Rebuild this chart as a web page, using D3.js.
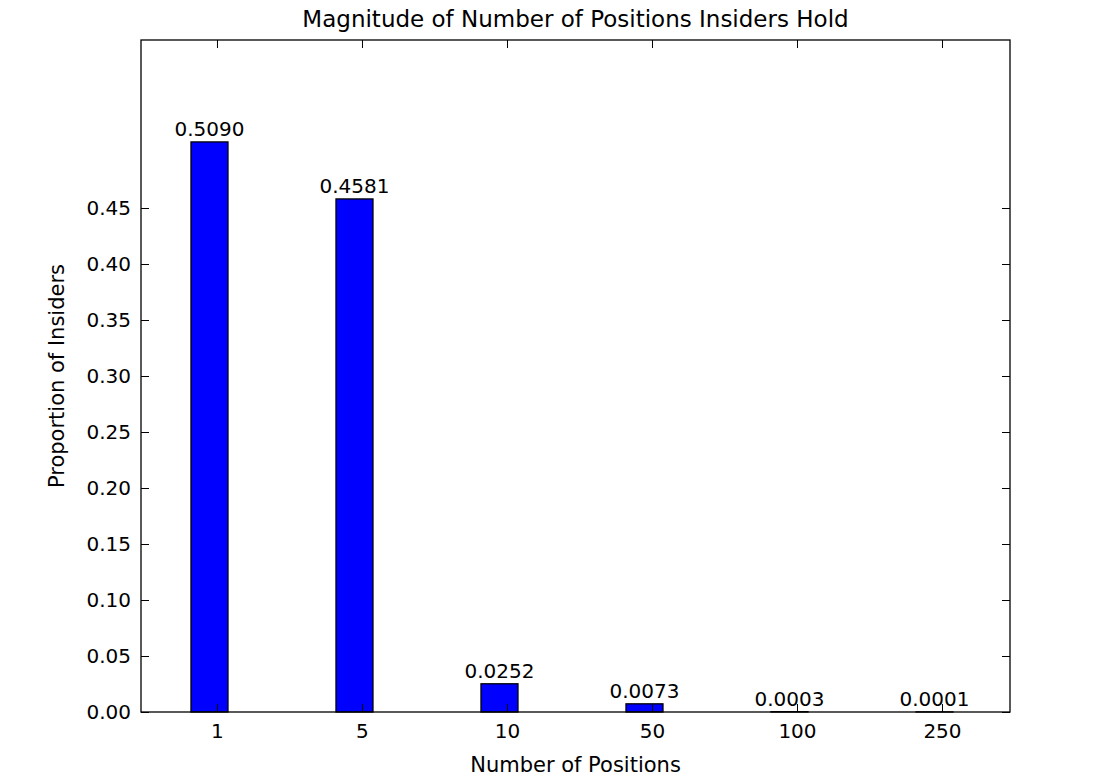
<!DOCTYPE html>
<html><head><meta charset="utf-8">
<script src="https://cdn.jsdelivr.net/npm/d3@7"></script>
<style>body{margin:0;background:#fff}text{font-family:"DejaVu Sans",sans-serif;fill:#000}</style>
</head><body>
<div id="chart"></div>
<script>
// data
var categories = ["1", "5", "10", "50", "100", "250"];
var proportions = [0.5090, 0.4581, 0.0252, 0.0073, 0.0003, 0.0001];
var yTicks = [0, 0.05, 0.10, 0.15, 0.20, 0.25, 0.30, 0.35, 0.40, 0.45];

var W = 1120, H = 782;
var plotL = 141, plotR = 1010, plotT = 40, plotB = 712;

var svg = d3.select("#chart").append("svg")
  .attr("width", W).attr("height", H);

// scales
var x = d3.scaleLinear().domain([-0.524, 5.469]).range([plotL, plotR]);
var y = d3.scaleLinear().domain([0, 0.6]).range([plotB, plotT]);
var barOff = -26 / 145, barW = 37 / 145; // in index units

// bars
svg.selectAll("rect.bar").data(proportions).enter().append("rect")
  .attr("class", "bar")
  .attr("x", (d, i) => x(i + barOff))
  .attr("width", (d, i) => x(i + barOff + barW) - x(i + barOff))
  .attr("y", d => y(d))
  .attr("height", d => plotB - y(d))
  .attr("fill", "#0000ff")
  .attr("stroke", "#000").attr("stroke-width", 1.3);

// value labels
svg.selectAll("text.val").data(proportions).enter().append("text")
  .attr("class", "val")
  .attr("x", (d, i) => x(i + barOff + barW / 2))
  .attr("y", d => y(d) - 6)
  .attr("text-anchor", "middle")
  .style("font-size", "20px")
  .text(d => d.toFixed(4));

// axes with inward ticks on all sides
var idx = d3.range(categories.length);
svg.append("g").attr("transform", "translate(0," + plotB + ")")
  .call(d3.axisBottom(x).tickValues(idx).tickFormat(i => categories[i]).tickSizeInner(-8).tickSizeOuter(0).tickPadding(12))
  .call(g => g.selectAll("text").style("font-size", "20px").attr("font-family", null));
svg.append("g").attr("transform", "translate(0," + plotT + ")")
  .call(d3.axisTop(x).tickValues(idx).tickFormat("").tickSizeInner(-8).tickSizeOuter(0));
svg.append("g").attr("transform", "translate(" + plotL + ",0)")
  .call(d3.axisLeft(y).tickValues(yTicks).tickFormat(d3.format(".2f")).tickSizeInner(-8).tickSizeOuter(0).tickPadding(10))
  .call(g => g.selectAll("text").style("font-size", "20px").attr("font-family", null));
svg.append("g").attr("transform", "translate(" + plotR + ",0)")
  .call(d3.axisRight(y).tickValues(yTicks).tickFormat("").tickSizeInner(-8).tickSizeOuter(0));
svg.selectAll(".domain").remove();
svg.selectAll(".tick line").attr("stroke", "#000");

// frame
svg.append("rect").attr("x", plotL).attr("y", plotT)
  .attr("width", plotR - plotL).attr("height", plotB - plotT)
  .attr("fill", "none").attr("stroke", "#000").attr("stroke-width", 1.3);

// titles
svg.append("text").attr("x", (plotL + plotR) / 2).attr("y", 27)
  .attr("text-anchor", "middle").style("font-size", "23px")
  .text("Magnitude of Number of Positions Insiders Hold");
svg.append("text").attr("x", (plotL + plotR) / 2).attr("y", 772)
  .attr("text-anchor", "middle").style("font-size", "21px")
  .text("Number of Positions");
svg.append("text").attr("transform", "translate(64," + (plotT + plotB) / 2 + ") rotate(-90)")
  .attr("text-anchor", "middle").style("font-size", "21px")
  .text("Proportion of Insiders");
</script>
</body></html>
